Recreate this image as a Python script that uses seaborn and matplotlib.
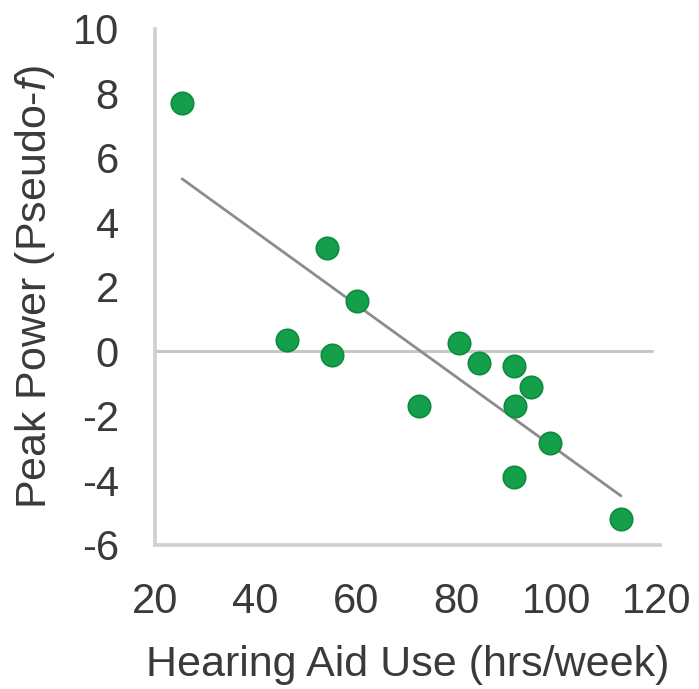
import matplotlib
matplotlib.use("Agg")
import matplotlib.pyplot as plt
import seaborn as sns
import pandas as pd

# Hearing aid use vs. peak power per participant
hours_per_week = [25.4, 46.3, 54.3, 55.3, 60.2, 72.6, 80.6, 84.5, 91.5, 94.9, 91.7, 98.7, 91.5, 112.8]
peak_power = [7.7, 0.35, 3.2, -0.1, 1.55, -1.7, 0.25, -0.35, -0.45, -1.1, -1.7, -2.85, -3.9, -5.2]

x_ticks = [20, 40, 60, 80, 100, 120]
y_ticks = [-6, -4, -2, 0, 2, 4, 6, 8, 10]

df = pd.DataFrame({"hours": hours_per_week, "power": peak_power})

sns.set_theme(style="white")
plt.rcParams["font.family"] = ["Liberation Sans", "DejaVu Sans"]
plt.rcParams["mathtext.fontset"] = "custom"
plt.rcParams["mathtext.it"] = "Liberation Sans:italic"

fig = plt.figure(figsize=(6.99, 6.89), dpi=100)
ax = fig.add_axes([0.2217, 0.209, 0.7218, 0.749])

ax.axhline(0, color="#c8c8c8", lw=2.2, zorder=1, xmax=0.985)

sns.regplot(data=df, x="hours", y="power", scatter=False, ci=None,
            truncate=True, ax=ax,
            line_kws=dict(color="#8c8c8c", lw=2.0, zorder=2))
sns.scatterplot(data=df, x="hours", y="power", ax=ax, s=260,
                color="#14a04b", edgecolor="#0e8a3e", linewidth=1.2,
                zorder=3)

ax.set_xlim(20, 120.5)
ax.set_ylim(-6, 10)
ax.set_xticks(x_ticks)
ax.set_yticks(y_ticks)
ax.set_xticklabels([str(v) for v in x_ticks])
ax.set_yticklabels([str(v) for v in y_ticks])

ax.tick_params(axis="both", length=0, labelsize=30, labelcolor="#3a3a3a")
ax.tick_params(axis="y", pad=26)
ax.tick_params(axis="x", pad=27)

for side in ["top", "right"]:
    ax.spines[side].set_visible(False)
for side in ["left", "bottom"]:
    ax.spines[side].set_color("#cfcfcf")
    ax.spines[side].set_linewidth(2.6)

ax.set_xlabel("Hearing Aid Use (hrs/week)", fontsize=31, color="#3a3a3a", labelpad=16)
ax.set_ylabel("Peak Power (Pseudo-$\\mathit{f}$)", fontsize=31, color="#3a3a3a", labelpad=11)

fig.savefig("out.png", dpi=100, facecolor="white")
